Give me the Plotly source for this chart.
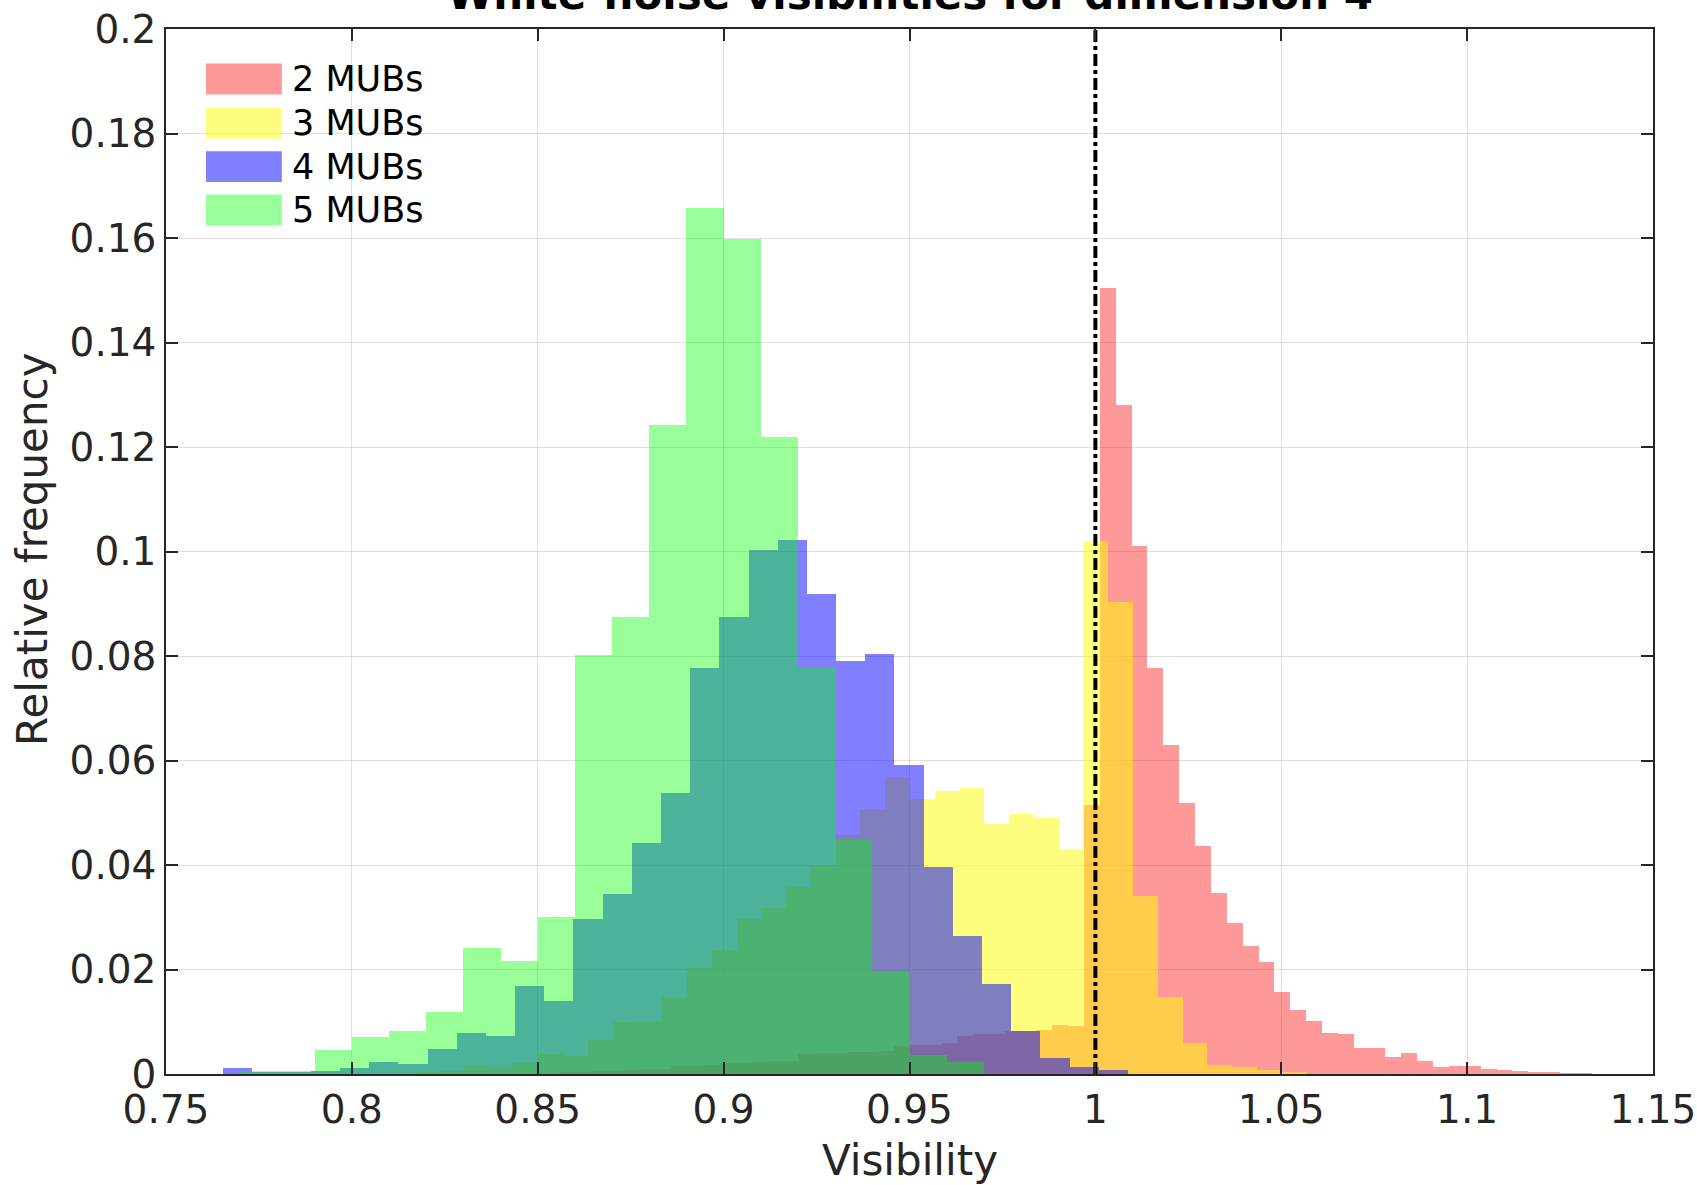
import plotly.graph_objects as go

# ---------------- data (relative frequencies) ----------------
series_names = ["2 MUBs", "3 MUBs", "4 MUBs", "5 MUBs"]

# 2 MUBs
red_start = 0.85609
red_width = 0.004268
red_heights = [0.0003, 0.0004, 0.0005, 0.0006, 0.0008, 0.0010, 0.0010, 0.0015, 0.0016, 0.0017,
               0.0021, 0.0022, 0.0023, 0.0024, 0.0025, 0.0038, 0.0040, 0.0041, 0.0042, 0.0043,
               0.0044, 0.0053, 0.0055, 0.0056, 0.0059, 0.0072, 0.0077, 0.0077, 0.0083, 0.0083,
               0.0085, 0.0094, 0.0092, 0.0515, 0.1504, 0.1280, 0.1010, 0.0777, 0.0629, 0.0518,
               0.0436, 0.0346, 0.0289, 0.0245, 0.0214, 0.0157, 0.0122, 0.0101, 0.0079, 0.0077,
               0.0050, 0.0050, 0.0032, 0.0040, 0.0025, 0.0013, 0.0016, 0.0015, 0.0010, 0.0008,
               0.0006, 0.0004, 0.0003, 0.0002, 0.0001]

# 3 MUBs
yellow_start = 0.8168
yellow_width = 1.0 / 150
yellow_heights = [0.0003, 0.0006, 0.0016, 0.0013, 0.0021, 0.0039, 0.0034, 0.0066, 0.0100, 0.0101,
                  0.0147, 0.0202, 0.0238, 0.0297, 0.0318, 0.0357, 0.0398, 0.0458, 0.0508, 0.0568,
                  0.0526, 0.0541, 0.0548, 0.0478, 0.0497, 0.0490, 0.0430, 0.1020, 0.0904, 0.0341,
                  0.0147, 0.0059, 0.0018, 0.0013, 0.0007, 0.0003]

# 4 MUBs
blue_start = 0.7654
blue_width = 0.00785
blue_heights = [0.0012, 0.0004, 0.0004, 0.0005, 0.0011, 0.0023, 0.0020, 0.0048, 0.0079, 0.0073,
                0.0168, 0.0139, 0.0296, 0.0344, 0.0443, 0.0538, 0.0777, 0.0874, 0.1003, 0.1022,
                0.0918, 0.0791, 0.0803, 0.0591, 0.0396, 0.0264, 0.0172, 0.0083, 0.0030, 0.0013,
                0.0007]

# 5 MUBs
green_start = 0.77
green_width = 0.01
green_heights = [0.0006, 0.0006, 0.0046, 0.0071, 0.0082, 0.0119, 0.0241, 0.0217, 0.0301, 0.0801,
                 0.0874, 0.1243, 0.1658, 0.1598, 0.1220, 0.0777, 0.0448, 0.0195, 0.0036, 0.0023]

reference_visibility = 1.0

x_ticks = [0.75, 0.8, 0.85, 0.9, 0.95, 1.0, 1.05, 1.1, 1.15]
x_tick_labels = ["0.75", "0.8", "0.85", "0.9", "0.95", "1", "1.05", "1.1", "1.15"]
y_ticks = [0, 0.02, 0.04, 0.06, 0.08, 0.1, 0.12, 0.14, 0.16, 0.18, 0.2]
y_tick_labels = ["0", "0.02", "0.04", "0.06", "0.08", "0.1", "0.12", "0.14", "0.16", "0.18", "0.2"]

# ---------------- styling ----------------
colors = ["rgba(255,0,0,0.4)", "rgba(255,255,0,0.5)", "rgba(0,0,255,0.5)", "rgba(0,255,0,0.4)"]
FONT = "DejaVu Sans"
AX = "rgb(38,38,38)"

fig = go.Figure()

series = [(red_start, red_width, red_heights),
          (yellow_start, yellow_width, yellow_heights),
          (blue_start, blue_width, blue_heights),
          (green_start, green_width, green_heights)]

for (start, width, heights), name, col in zip(series, series_names, colors):
    centers = [start + (i + 0.5) * width for i in range(len(heights))]
    fig.add_trace(go.Bar(x=centers, y=heights, width=width, name=name,
                         marker=dict(color=col, line=dict(width=0)),
                         showlegend=False))

fig.add_trace(go.Scatter(x=[reference_visibility, reference_visibility], y=[0, 0.2],
                         mode="lines", line=dict(color="black", width=4, dash="dashdot"),
                         showlegend=False))

fig.update_layout(
    width=1697, height=1185,
    margin=dict(l=166, r=44, t=29, b=111),
    paper_bgcolor="white", plot_bgcolor="white",
    barmode="overlay", bargap=0,
    font=dict(family=FONT, color=AX),
    showlegend=False,
)

fig.update_xaxes(range=[0.75, 1.15], tickvals=x_ticks, ticktext=x_tick_labels,
                 tickfont=dict(size=39, family=FONT, color=AX),
                 ticks="inside", ticklen=12, tickwidth=1.5, tickcolor=AX,
                 showline=True, linecolor=AX, linewidth=1.5, mirror="ticks",
                 showgrid=True, gridcolor="rgba(38,38,38,0.15)", gridwidth=1.2,
                 zeroline=False, automargin=False)
fig.update_yaxes(range=[0, 0.2], tickvals=y_ticks, ticktext=y_tick_labels,
                 tickfont=dict(size=39, family=FONT, color=AX),
                 ticks="inside", ticklen=12, tickwidth=1.5, tickcolor=AX,
                 showline=True, linecolor=AX, linewidth=1.5, mirror="ticks",
                 showgrid=True, gridcolor="rgba(38,38,38,0.15)", gridwidth=1.2,
                 zeroline=False, automargin=False)

# axis titles
fig.add_annotation(text="Visibility", xref="paper", yref="paper", x=0.5, y=-0.083,
                   xanchor="center", yanchor="middle", showarrow=False,
                   font=dict(size=42, family=FONT, color=AX))
fig.add_annotation(text="Relative frequency", xref="paper", yref="paper", x=-0.0898, y=0.502,
                   xanchor="center", yanchor="middle", textangle=-90, showarrow=False,
                   font=dict(size=42, family=FONT, color=AX))

# title (partly cut off at the top, as in the reference)
fig.add_annotation(text="<b>White-noise visibilities for dimension 4</b>",
                   xref="paper", yref="paper", x=0.5, y=1, xanchor="center", yanchor="bottom",
                   yshift=8, showarrow=False, font=dict(size=42, family=FONT, color="black"))

# legend (boxes + labels) in the top-left corner
leg_rows_y = [0.9522, 0.9098, 0.8683, 0.8268]
box_half = 0.0148
for name, col, yc in zip(series_names, colors, leg_rows_y):
    fig.add_shape(type="rect", xref="paper", yref="paper", x0=0.0269, x1=0.0779,
                  y0=yc - box_half, y1=yc + box_half, fillcolor=col, line=dict(width=0))
    fig.add_annotation(text=name, xref="paper", yref="paper", x=0.0837, y=yc,
                       xanchor="left", yanchor="middle", showarrow=False,
                       font=dict(size=35, family=FONT, color="black"))

fig.write_html("out.html")
